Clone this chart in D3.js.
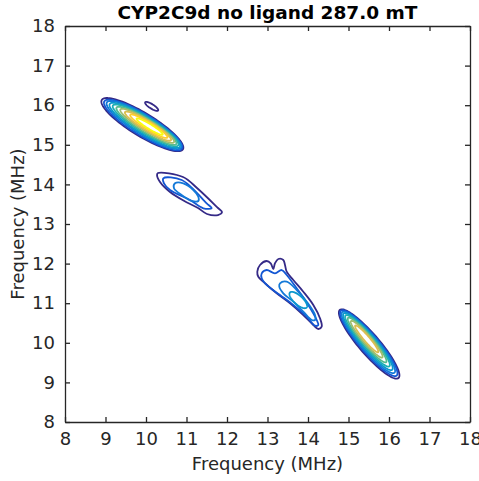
<!DOCTYPE html>
<html>
<head>
<meta charset="utf-8">
<script src="https://cdn.jsdelivr.net/npm/d3@7"></script>
<style>
  body { margin: 0; background: #fff; }
  text { font-family: "DejaVu Sans", sans-serif; }
</style>
</head>
<body>
<div id="chart"></div>
<script>
// chart text + ticks
var title = "CYP2C9d no ligand 287.0 mT";
var xLabel = "Frequency (MHz)";
var yLabel = "Frequency (MHz)";
var xTicks = [8, 9, 10, 11, 12, 13, 14, 15, 16, 17, 18];
var yTicks = [8, 9, 10, 11, 12, 13, 14, 15, 16, 17, 18];
var nLevels = 10;

// elliptical contour rings: [level, centre x, centre y, half length, half width, tilt (deg)], MHz
var peak1 = [
  [1, 9.91, 15.51, 1.18, 0.290, -32],
  [2, 9.93, 15.50, 1.13, 0.265, -32],
  [3, 9.95, 15.50, 1.08, 0.240, -32],
  [4, 9.97, 15.49, 1.02, 0.215, -32],
  [5, 9.99, 15.49, 0.95, 0.190, -32],
  [6, 10.01, 15.48, 0.87, 0.165, -32],
  [7, 10.03, 15.48, 0.78, 0.140, -32],
  [8, 10.05, 15.47, 0.67, 0.115, -32],
  [9, 10.07, 15.47, 0.54, 0.090, -32],
  [10, 10.09, 15.46, 0.38, 0.060, -32]
];
var blob = [
  [1, 10.14, 15.97, 0.19, 0.055, -33]
];
var peak4 = [
  [1, 15.51, 9.97, 1.125, 0.250, -50],
  [2, 15.50, 9.99, 1.07, 0.225, -50],
  [3, 15.49, 10.01, 1.00, 0.200, -50],
  [4, 15.48, 10.03, 0.93, 0.175, -50],
  [5, 15.47, 10.05, 0.84, 0.150, -50],
  [6, 15.46, 10.07, 0.73, 0.125, -50],
  [7, 15.45, 10.09, 0.60, 0.100, -50],
  [8, 15.45, 10.10, 0.44, 0.070, -50]
];
var peak3Core = [
  [4, 13.76, 11.08, 0.28, 0.11, -43]
];

// traced contours (level, points in MHz)
var peak2 = [
  { level: 1, pts: [[10.296,14.288],[10.914,14.187],[11.259,13.909],[11.778,13.404],[11.877,13.303],[11.778,13.227],[11.506,13.253],[11.284,13.404],[10.988,13.556],[10.593,13.808],[10.346,14.061],[10.272,14.237]] },
  { level: 2, pts: [[10.427,14.154],[10.881,14.111],[11.499,13.523],[11.622,13.397],[11.415,13.397],[11.086,13.606],[10.593,13.859],[10.444,14.028]] },
  { level: 3, pts: [[10.716,14.028],[10.921,14.028],[11.168,13.859],[11.292,13.689],[11.292,13.581],[11.128,13.581],[10.881,13.732],[10.691,13.902]] }
];
var peak3 = [
  { level: 1, pts: [[12.748,11.795],[12.815,11.965],[12.980,12.066],[13.079,12.008],[13.143,11.864],[13.185,12.008],[13.267,12.116],[13.390,12.091],[13.432,11.965],[13.474,11.795],[13.637,11.586],[13.884,11.290],[14.131,10.955],[14.296,10.619],[14.338,10.407],[14.254,10.348],[14.131,10.449],[13.884,10.702],[13.556,10.997],[13.227,11.250],[12.938,11.503],[12.773,11.669]] },
  { level: 2, pts: [[12.857,11.755],[12.980,11.838],[13.185,11.755],[13.351,11.838],[13.474,11.712],[13.721,11.376],[14.007,10.955],[14.215,10.576],[14.254,10.449],[14.173,10.432],[13.968,10.659],[13.637,10.955],[13.309,11.207],[12.980,11.460],[12.857,11.629]] },
  { level: 3, pts: [[13.309,11.503],[13.474,11.543],[13.721,11.333],[13.968,11.038],[14.173,10.702],[14.173,10.576],[14.091,10.576],[13.884,10.785],[13.637,11.038],[13.390,11.250],[13.291,11.417]] }
];

var parula = ["#352a87", "#0f5cdd", "#1481d6", "#06a4ca", "#2eb7a4", "#87bf77", "#d1bb59", "#fec832", "#f9fb0e"];

var width = 479, height = 481;
var margin = { top: 26, right: 9, bottom: 59, left: 65 };

var svg = d3.select("#chart").append("svg")
  .attr("width", width)
  .attr("height", height);

var x = d3.scaleLinear().domain([8, 18]).range([margin.left, width - margin.right]);
var y = d3.scaleLinear().domain([8, 18]).range([height - margin.bottom, margin.top]);

var colorOf = d3.piecewise(d3.interpolateRgb, parula);
var levelColor = function(l) { return colorOf((l - 1) / (nLevels - 1)); };

var line = d3.line()
  .x(function(d) { return x(d[0]); })
  .y(function(d) { return y(d[1]); });

// turn an ellipse ring into a closed point list (in MHz)
var ellipsePts = function(r) {
  var th = r[5] * Math.PI / 180, pts = [];
  for (var i = 0; i < 90; i++) {
    var t = i / 90 * 2 * Math.PI;
    var u = r[3] * Math.cos(t), v = r[4] * Math.sin(t);
    pts.push([r[1] + u * Math.cos(th) - v * Math.sin(th), r[2] + u * Math.sin(th) + v * Math.cos(th)]);
  }
  return pts;
};

var rings = [];
peak1.concat(blob, peak4, peak3Core).forEach(function(r) {
  rings.push({ level: r[0], pts: ellipsePts(r), smooth: false });
});
peak2.concat(peak3).forEach(function(r) {
  rings.push({ level: r.level, pts: r.pts, smooth: true });
});
rings.sort(function(a, b) { return a.level - b.level; });

svg.append("g").selectAll("path")
  .data(rings)
  .enter().append("path")
  .attr("d", function(d) {
    line.curve(d.smooth ? d3.curveCatmullRomClosed : d3.curveLinearClosed);
    return line(d.pts);
  })
  .style("fill", "none")
  .style("stroke", function(d) { return levelColor(d.level); })
  .style("stroke-width", 1.8)
  .style("stroke-linejoin", "round");

// axes, ticks pointing inward on all four sides
var axisColor = "#262626";
var axBottom = svg.append("g")
  .attr("transform", "translate(0," + y(8) + ")")
  .call(d3.axisBottom(x).tickValues(xTicks).tickSizeInner(-5).tickSizeOuter(0).tickPadding(10));
var axLeft = svg.append("g")
  .attr("transform", "translate(" + x(8) + ",0)")
  .call(d3.axisLeft(y).tickValues(yTicks).tickSizeInner(-5).tickSizeOuter(0).tickPadding(10));
var axTop = svg.append("g")
  .attr("transform", "translate(0," + y(18) + ")")
  .call(d3.axisTop(x).tickValues(xTicks).tickSizeInner(-5).tickSizeOuter(0).tickFormat(""));
var axRight = svg.append("g")
  .attr("transform", "translate(" + x(18) + ",0)")
  .call(d3.axisRight(y).tickValues(yTicks).tickSizeInner(-5).tickSizeOuter(0).tickFormat(""));

[axBottom, axLeft, axTop, axRight].forEach(function(g) {
  g.select(".domain").style("stroke", axisColor).style("stroke-width", 1.3);
  g.selectAll(".tick line").style("stroke", axisColor).style("stroke-width", 1.3);
  g.selectAll(".tick text").style("fill", axisColor).style("font-size", "18px").style("font-family", "DejaVu Sans");
});

svg.append("text")
  .attr("x", (x(8) + x(18)) / 2)
  .attr("y", 19)
  .attr("text-anchor", "middle")
  .style("font-size", "18.5px")
  .style("font-weight", "bold")
  .style("fill", "#000")
  .text(title);

svg.append("text")
  .attr("x", (x(8) + x(18)) / 2)
  .attr("y", 470)
  .attr("text-anchor", "middle")
  .style("font-size", "18px")
  .style("fill", axisColor)
  .text(xLabel);

svg.append("text")
  .attr("transform", "translate(24," + (y(8) + y(18)) / 2 + ") rotate(-90)")
  .attr("text-anchor", "middle")
  .style("font-size", "18px")
  .style("fill", axisColor)
  .text(yLabel);
</script>
</body>
</html>
